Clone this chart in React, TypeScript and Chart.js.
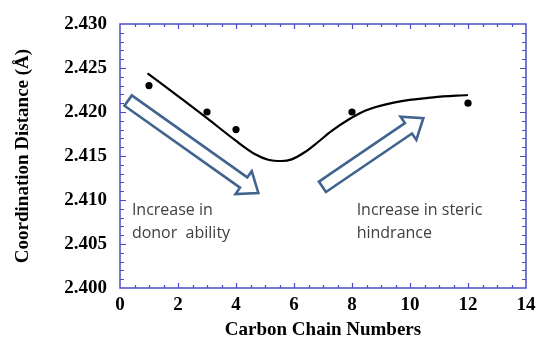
import React, { useEffect, useRef } from 'react';
import { Chart, registerables } from 'chart.js';

Chart.register(...registerables);

// ---- data ----
const pointX = [1, 3, 4, 8, 12];
const pointY = [2.423, 2.42, 2.418, 2.42, 2.421];

const fitX = [0.95, 2, 3, 3.97, 4.66, 5.11, 5.58, 5.92, 6.38, 6.84, 7.3, 7.87, 8.45, 9.48, 10.8, 12];
const fitY = [2.4244, 2.4218, 2.4193, 2.4168, 2.4152, 2.41458, 2.41443, 2.41462, 2.41545, 2.41662, 2.41785, 2.41912, 2.42015, 2.4211, 2.42167, 2.42193];

const xTicks = [0, 2, 4, 6, 8, 10, 12, 14];
const yTicks = [2.4, 2.405, 2.41, 2.415, 2.42, 2.425, 2.43];

const xTitle = 'Carbon Chain Numbers';
const yTitle = 'Coordination Distance (Å)';

const noteLeft = ['Increase in', 'donor  ability'];
const noteRight = ['Increase in steric', 'hindrance'];

// annotation anchors (data coords)
const notes = [
  { lines: noteLeft, x: 0.41, y: 2.4083 },
  { lines: noteRight, x: 8.16, y: 2.4083 },
];
const arrows = [
  { x1: 0.28, y1: 2.4213, x2: 4.77, y2: 2.4108 },
  { x1: 6.98, y1: 2.4115, x2: 10.46, y2: 2.4193 },
];

const FRAME = '#4b4bc6';
const ARROW = '#41648f';
const SERIF = '"Liberation Serif", "Times New Roman", serif';

function drawArrow(ctx: CanvasRenderingContext2D, x1: number, y1: number, x2: number, y2: number) {
  const s = 6.3, h = 14, hl = 18;
  const dx = x2 - x1, dy = y2 - y1;
  const L = Math.hypot(dx, dy);
  const ux = dx / L, uy = dy / L;
  const nx = -uy, ny = ux;
  const bx = x2 - ux * hl, by = y2 - uy * hl;
  const pts = [
    [x1 + nx * s, y1 + ny * s],
    [bx + nx * s, by + ny * s],
    [bx + nx * h, by + ny * h],
    [x2, y2],
    [bx - nx * h, by - ny * h],
    [bx - nx * s, by - ny * s],
    [x1 - nx * s, y1 - ny * s],
  ];
  ctx.beginPath();
  ctx.moveTo(pts[0][0], pts[0][1]);
  for (let i = 1; i < pts.length; i++) ctx.lineTo(pts[i][0], pts[i][1]);
  ctx.closePath();
  ctx.fillStyle = '#ffffff';
  ctx.fill();
  ctx.stroke();
}

const decorPlugin = {
  id: 'decor',
  beforeDatasetsDraw(chart: any) {
    const ctx = chart.ctx as CanvasRenderingContext2D;
    const xs = chart.scales.x, ys = chart.scales.y;
    ctx.save();
    ctx.strokeStyle = ARROW;
    ctx.lineWidth = 2.6;
    ctx.lineJoin = 'miter';
    for (const a of arrows) {
      drawArrow(ctx, xs.getPixelForValue(a.x1), ys.getPixelForValue(a.y1), xs.getPixelForValue(a.x2), ys.getPixelForValue(a.y2));
    }
    ctx.restore();
  },
  afterDatasetsDraw(chart: any) {
    const ctx = chart.ctx as CanvasRenderingContext2D;
    const { left, right, top, bottom } = chart.chartArea;
    const xs = chart.scales.x, ys = chart.scales.y;
    ctx.save();
    ctx.strokeStyle = FRAME;
    ctx.lineWidth = 1.5;
    ctx.strokeRect(left, top, right - left, bottom - top);
    ctx.lineWidth = 1.2;
    ctx.beginPath();
    for (let i = 1; i < 28; i++) {
      const px = Math.round(xs.getPixelForValue(i * 0.5)) + 0.5;
      const len = i % 4 === 0 ? 5 : 3;
      ctx.moveTo(px, bottom);
      ctx.lineTo(px, bottom - len);
      ctx.moveTo(px, top);
      ctx.lineTo(px, top + len);
    }
    for (let i = 1; i < 30; i++) {
      const py = Math.round(ys.getPixelForValue(2.4 + i * 0.001)) + 0.5;
      const len = i % 5 === 0 ? 6 : 4;
      ctx.moveTo(left, py);
      ctx.lineTo(left + len, py);
      ctx.moveTo(right, py);
      ctx.lineTo(right - len, py);
    }
    ctx.stroke();

    ctx.fillStyle = '#404040';
    ctx.font = '16px "Open Sans", sans-serif';
    ctx.textBaseline = 'alphabetic';
    ctx.textAlign = 'left';
    for (const n of notes) {
      const px = xs.getPixelForValue(n.x);
      const py = ys.getPixelForValue(n.y);
      n.lines.forEach((t, i) => ctx.fillText(t, px, py + i * 23));
    }
    ctx.restore();
  },
};

export default function App() {
  const ref = useRef<HTMLCanvasElement | null>(null);
  useEffect(() => {
    if (!ref.current) return;
    const zeroPad = (s: any) => {
      s.paddingLeft = 0;
      s.paddingRight = 0;
      s.paddingTop = 0;
      s.paddingBottom = 0;
    };
    const chart = new Chart(ref.current, {
      type: 'scatter',
      data: {
        datasets: [
          {
            label: 'fit',
            data: fitX.map((x, i) => ({ x, y: fitY[i] })),
            showLine: true,
            borderColor: '#000000',
            borderWidth: 2.2,
            pointRadius: 0,
            cubicInterpolationMode: 'monotone',
            fill: false,
          },
          {
            label: 'data',
            data: pointX.map((x, i) => ({ x, y: pointY[i] })),
            showLine: false,
            pointRadius: 3.6,
            pointBackgroundColor: '#000000',
            pointBorderColor: '#000000',
            pointBorderWidth: 0,
          },
        ],
      },
      options: {
        animation: false,
        responsive: false,
        devicePixelRatio: 1,
        layout: { padding: { left: 0, right: 10, top: 24, bottom: 0 } },
        plugins: { legend: { display: false }, tooltip: { enabled: false } },
        scales: {
          x: {
            type: 'linear',
            min: 0,
            max: 14,
            grid: { display: false, drawTicks: false, tickLength: 0 },
            border: { display: false },
            afterBuildTicks: (s: any) => {
              s.ticks = xTicks.map((v) => ({ value: v }));
            },
            afterFit: (s: any) => {
              s.height = 52;
              zeroPad(s);
            },
            ticks: {
              color: '#000',
              padding: 6,
              maxRotation: 0,
              autoSkip: false,
              font: { family: SERIF, size: 19, weight: 'bold' },
              callback: (v: any) => String(v),
            },
            title: {
              display: true,
              text: xTitle,
              color: '#000',
              padding: { top: 0, bottom: 0 },
              font: { family: SERIF, size: 19, weight: 'bold', lineHeight: 1 },
            },
          },
          y: {
            type: 'linear',
            min: 2.4,
            max: 2.43,
            grid: { display: false, drawTicks: false, tickLength: 0 },
            border: { display: false },
            afterBuildTicks: (s: any) => {
              s.ticks = yTicks.map((v) => ({ value: v }));
            },
            afterFit: (s: any) => {
              s.width = 120;
              zeroPad(s);
            },
            ticks: {
              color: '#000',
              padding: 13,
              autoSkip: false,
              font: { family: SERIF, size: 19, weight: 'bold' },
              callback: (v: any) => Number(v).toFixed(3),
            },
            title: {
              display: true,
              text: yTitle,
              color: '#000',
              padding: { top: 14, bottom: 0 },
              font: { family: SERIF, size: 19, weight: 'bold', lineHeight: 1 },
            },
          },
        },
      } as any,
      plugins: [decorPlugin],
    });
    return () => chart.destroy();
  }, []);

  return (
    <div style={{ position: 'fixed', left: 0, top: 0, width: 536, height: 340, background: '#fff' }}>
      <canvas ref={ref} width={536} height={340} style={{ display: 'block' }} />
    </div>
  );
}
